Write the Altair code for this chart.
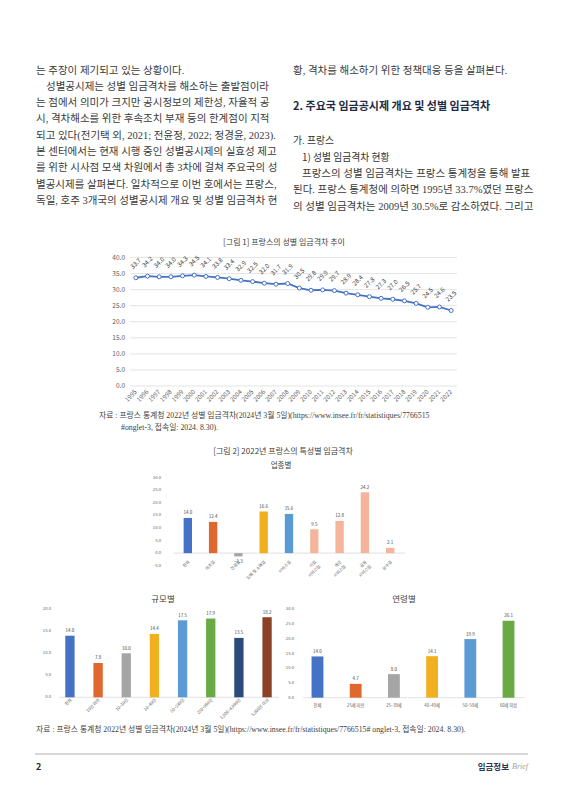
import altair as alt
import pandas as pd

# ---------------- data ----------------
years = ["1995", "1996", "1997", "1998", "1999", "2000", "2001", "2002", "2003", "2004",
         "2005", "2006", "2007", "2008", "2009", "2010", "2011", "2012", "2013", "2014",
         "2015", "2016", "2017", "2018", "2019", "2020", "2021", "2022"]
gap = [33.7, 34.2, 34.0, 34.0, 34.3, 34.5, 34.1, 33.8, 33.4, 32.9,
       32.5, 32.0, 31.7, 31.9, 30.5, 29.8, 29.9, 29.7, 28.9, 28.4,
       27.8, 27.3, 27.0, 26.5, 25.7, 24.5, 24.6, 23.5]
fig1_ticks = [0, 5, 10, 15, 20, 25, 30, 35, 40]

ind_cats = ["전체", "제조업", "건설업", "도매 및 소매업", "서비스업",
            "사업\n서비스업", "개인\n서비스업", "금융\n서비스업", "운수업"]
ind_vals = [14.0, 12.4, -1.3, 16.6, 15.6, 9.5, 12.8, 24.2, 2.1]
ind_ticks = [-5, 0, 5, 10, 15, 20, 25, 30]

size_cats = ["전체", "10인 미만", "10~19인", "20~49인", "50~249인",
             "250~999인", "1,000~4,999인", "5,000인 이상"]
size_vals = [14.0, 7.8, 10.0, 14.4, 17.5, 17.9, 13.5, 18.2]
size_ticks = [0, 5, 10, 15, 20]

age_cats = ["전체", "25세 미만", "25~39세", "40~49세", "50~59세", "60세 이상"]
age_vals = [14.0, 4.7, 8.0, 14.1, 19.9, 26.1]
age_ticks = [0, 5, 10, 15, 20, 25, 30]

# ---------------- styles ----------------
ind_colors = ["#4472C4", "#E0672E", "#A5A5A5", "#F0B020", "#5B9BD5",
              "#F4B59B", "#F4B59B", "#F4B59B", "#F4B59B"]
size_colors = ["#4472C4", "#E0672E", "#A5A5A5", "#F0B020", "#5B9BD5",
               "#6AAA45", "#2C4A7C", "#8B4226"]
age_colors = ["#4472C4", "#E0672E", "#A5A5A5", "#F0B020", "#5B9BD5", "#6AAA45"]

SANS = "Noto Sans CJK KR"
SERIF = "Liberation Serif, Noto Sans CJK KR"

ONE = pd.DataFrame({"k": [0]})


def fmt(v):
    return f"{v:.1f}"


def T(s, x, y, org, size=10.5, color="#3a3a3a", align="left", font=SERIF,
      weight="normal", style="normal", baseline="middle"):
    return alt.Chart(ONE).mark_text(
        align=align, baseline=baseline, fontSize=size, font=font,
        fontWeight=weight, fontStyle=style, color=color
    ).encode(x=alt.value(x - org[0]), y=alt.value(y - org[1]), text=alt.value(s))


# ---------------- row A : body text ----------------
OA = (8, 8)
left_lines = [
    "는 주장이 제기되고 있는 상황이다.",
    "성별공시제는 성별 임금격차를 해소하는 출발점이라",
    "는 점에서 의미가 크지만 공시정보의 제한성, 자율적 공",
    "시, 격차해소를 위한 후속조치 부재 등의 한계점이 지적",
    "되고 있다(전기택 외, 2021; 전윤정, 2022; 정경윤, 2023).",
    "본 센터에서는 현재 시행 중인 성별공시제의 실효성 제고",
    "를 위한 시사점 모색 차원에서 총 3차에 걸쳐 주요국의 성",
    "별공시제를 살펴본다. 일차적으로 이번 호에서는 프랑스,",
    "독일, 호주 3개국의 성별공시제 개요 및 성별 임금격차 현",
]
rowA_layers = [T(s, 46 if i == 1 else 36, 70.5 + 16.3 * i, OA)
               for i, s in enumerate(left_lines)]
rowA_layers += [
    T("황, 격차를 해소하기 위한 정책대응 등을 살펴본다.", 293, 70.5, OA),
    T("2. 주요국 임금공시제 개요 및 성별 임금격차", 293, 107, OA, size=11, font=SANS,
      weight="bold", color="#1F2A44"),
    T("가. 프랑스", 293, 141, OA, size=9.8, font=SANS, color="#333333"),
    T("1) 성별 임금격차 현황", 302, 157.5, OA, size=9.8, font=SANS, color="#333333"),
    T("프랑스의 성별 임금격차는 프랑스 통계청을 통해 발표", 302, 174, OA),
    T("된다. 프랑스 통계청에 의하면 1995년 33.7%였던 프랑스", 293, 190, OA),
    T("의 성별 임금격차는 2009년 30.5%로 감소하였다. 그리고", 293, 206.5, OA),
]
rowA = alt.layer(*rowA_layers).properties(width=550, height=222)

# ---------------- row B : figure 1 ----------------
OB = (8, 230)
df1 = pd.DataFrame({"year": years, "gap": gap})
df1t = pd.DataFrame({"v": fig1_ticks, "lab": [fmt(v) for v in fig1_ticks]})
x1s = alt.Scale(type="point", domain=years, range=[130 - OB[0], 457 - OB[0]], padding=0.5)
y1s = alt.Scale(domain=[0, 40], range=[386 - OB[1], 257.5 - OB[1]], nice=False, zero=False)

grid1 = alt.Chart(df1t).mark_rule(color="#D9D9D9", strokeWidth=0.7).encode(
    y=alt.Y("v:Q", scale=y1s, axis=None), x=alt.value(130 - OB[0]), x2=alt.value(457 - OB[0]))
ylab1 = alt.Chart(df1t).mark_text(align="right", baseline="middle", fontSize=6.5,
                                  font=SANS, color="#595959").encode(
    y=alt.Y("v:Q", scale=y1s, axis=None), x=alt.value(125 - OB[0]), text="lab:N")
line1 = alt.Chart(df1).mark_line(color="#4472C4", strokeWidth=1.8).encode(
    x=alt.X("year:O", scale=x1s, axis=None), y=alt.Y("gap:Q", scale=y1s, axis=None))
pts1 = alt.Chart(df1).mark_point(shape="circle", filled=True, fill="white", stroke="#4472C4",
                                 strokeWidth=1, size=16, opacity=1).encode(
    x=alt.X("year:O", scale=x1s, axis=None), y=alt.Y("gap:Q", scale=y1s, axis=None))
dlab1 = alt.Chart(df1).transform_calculate(ly="datum.gap + 4.4").mark_text(
    angle=315, align="center", baseline="middle", fontSize=6.2, font=SANS, color="#404040").encode(
    x=alt.X("year:O", scale=x1s, axis=None), y=alt.Y("ly:Q", scale=y1s, axis=None),
    text=alt.Text("gap:Q", format=".1f"))
xlab1 = alt.Chart(df1).mark_text(angle=315, align="right", baseline="middle", fontSize=6.2,
                                 font=SANS, color="#595959").encode(
    x=alt.X("year:O", scale=x1s, axis=None), y=alt.value(391 - OB[1]), text="year:N")
rowB = alt.layer(
    grid1, ylab1, line1, pts1, dlab1, xlab1,
    T("[그림 1] 프랑스의 성별 임금격차 추이", 284, 242.5, OB, size=8, font=SANS,
      color="#404040", align="center"),
    T("자료 : 프랑스 통계청 2022년 성별 임금격차(2024년 3월 5일)(https://www.insee.fr/fr/statistiques/7766515",
      99, 416, OB, size=7.8, color="#404040"),
    T("#onglet-3, 접속일: 2024. 8.30).", 121, 428, OB, size=7.8, color="#404040"),
).properties(width=550, height=206)


# ---------------- bar chart helper ----------------
def bar_layers(cats, vals, ticks, colors, org, xr, pin, pout, yd, yr, ylab_x, axis_x,
               xlab_y, rotate=True, bar_font=4.5):
    ox, oy = org
    df = pd.DataFrame({"cat": cats, "val": vals})
    dt = pd.DataFrame({"v": ticks, "lab": [fmt(v) for v in ticks]})
    xs = alt.Scale(type="band", domain=cats, range=[xr[0] - ox, xr[1] - ox],
                   paddingInner=pin, paddingOuter=pout)
    ys = alt.Scale(domain=yd, range=[yr[0] - oy, yr[1] - oy], nice=False, zero=False)
    X = alt.X("cat:N", scale=xs, axis=None, sort=cats)
    zero = alt.Chart(pd.DataFrame({"z": [0]})).mark_rule(color="#D9D9D9", strokeWidth=0.8).encode(
        y=alt.Y("z:Q", scale=ys, axis=None), x=alt.value(axis_x[0] - ox),
        x2=alt.value(axis_x[1] - ox))
    ylab = alt.Chart(dt).mark_text(align="right", baseline="middle", fontSize=4.2,
                                   font=SANS, color="#595959").encode(
        y=alt.Y("v:Q", scale=ys, axis=None), x=alt.value(ylab_x - ox), text="lab:N")
    bars = alt.Chart(df).transform_calculate(base="0").mark_bar().encode(
        x=X, y=alt.Y("val:Q", scale=ys, axis=None), y2="base:Q",
        color=alt.Color("cat:N", scale=alt.Scale(domain=cats, range=colors), legend=None))
    vpos = alt.Chart(df).transform_filter("datum.val >= 0").mark_text(
        baseline="bottom", dy=-2.5, fontSize=bar_font, font=SANS, color="#404040").encode(
        x=X, y=alt.Y("val:Q", scale=ys, axis=None), text=alt.Text("val:Q", format=".1f"))
    layers = [zero, ylab, bars, vpos]
    if min(vals) < 0:
        vneg = alt.Chart(df).transform_filter("datum.val < 0").mark_text(
            baseline="top", dy=2.5, fontSize=bar_font, font=SANS, color="#404040").encode(
            x=X, y=alt.Y("val:Q", scale=ys, axis=None), text=alt.Text("val:Q", format=".1f"))
        layers.append(vneg)
    if rotate:
        xlab = alt.Chart(df).mark_text(angle=315, align="right", baseline="middle",
                                       fontSize=4.2, font=SANS, color="#595959",
                                       lineBreak="\n", dx=2).encode(
            x=X, y=alt.value(xlab_y - oy), text="cat:N")
    else:
        xlab = alt.Chart(df).mark_text(align="center", baseline="middle",
                                       fontSize=4.2, font=SANS, color="#595959").encode(
            x=X, y=alt.value(xlab_y - oy), text="cat:N")
    layers.append(xlab)
    return layers


# ---------------- row C : industry ----------------
OC = (8, 436)
rowC = alt.layer(
    *bar_layers(ind_cats, ind_vals, ind_ticks, ind_colors, OC, (173, 405), 0.67, 0.42,
                [-5, 30], (565.7, 477.7), 161, (173, 405), 563),
    T("[그림 2] 2022년 프랑스의 특성별 임금격차", 283, 452, OC, size=8, font=SANS,
      color="#404040", align="center"),
    T("업종별", 281, 466, OC, size=7.5, font=SANS, color="#404040", align="center"),
).properties(width=550, height=154)

# ---------------- row D : size + age (+ page footer) ----------------
OD1 = (8, 590)
OD2 = (290, 590)
footer_rule = alt.Chart(ONE).mark_rule(color="#9A9A9A", strokeWidth=0.8).encode(
    x=alt.value(35 - OD1[0]), x2=alt.value(528 - OD1[0]), y=alt.value(754 - OD1[1]))
sizeChart = alt.layer(
    *bar_layers(size_cats, size_vals, size_ticks, size_colors, OD1, (56, 281), 0.67, 0.33,
                [0, 20], (697.3, 609.3), 51, (59, 279), 701),
    T("규모별", 163, 598.5, OD1, size=8.5, font=SANS, color="#404040", align="center"),
    footer_rule,
    T("자료 : 프랑스 통계청 2022년 성별 임금격차(2024년 3월 5일)(https://www.insee.fr/fr/statistiques/7766515# onglet-3, 접속일: 2024. 8.30).",
      36, 729.5, OD1, size=7.8, color="#404040"),
    T("2", 36, 767, OD1, size=9, font=SANS, weight="bold", color="#222222"),
    T("Brief", 528, 767, OD1, size=8, font="Liberation Serif", style="italic",
      color="#A0A0A0", align="right"),
    T("임금정보", 509, 767, OD1, size=8.5, font=SANS, weight="bold", color="#2A3550",
      align="right"),
).properties(width=282, height=125)
ageChart = alt.layer(
    *bar_layers(age_cats, age_vals, age_ticks, age_colors, OD2, (302, 524), 0.69, 0.25,
                [0, 30], (697.7, 609.3), 294, (303, 525), 706, rotate=False),
    T("연령별", 404, 598.5, OD2, size=8.5, font=SANS, color="#404040", align="center"),
).properties(width=268, height=125)
rowD = alt.hconcat(sizeChart, ageChart, spacing=0, bounds="flush").resolve_scale(
    color="independent")

chart = alt.vconcat(rowA, rowB, rowC, rowD, spacing=0, bounds="flush").resolve_scale(
    color="independent"
).properties(
    padding=0, background="white"
).configure_view(stroke=None)

chart.save("out.html", embed_options={"renderer": "svg", "actions": False})
